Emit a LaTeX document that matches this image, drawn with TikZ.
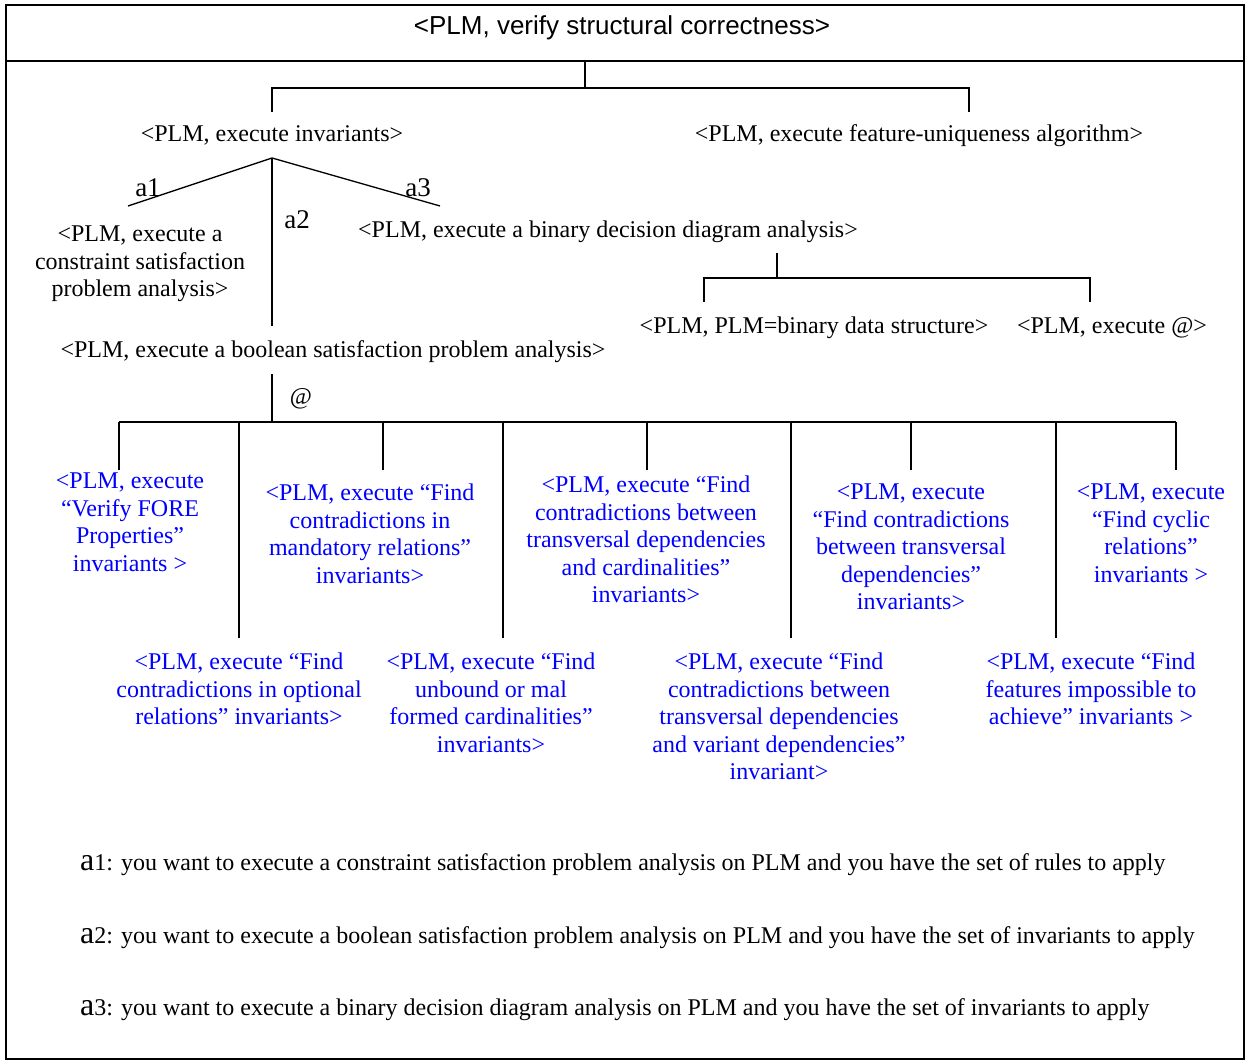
\documentclass[tikz,border=0pt]{standalone}
\usepackage{fontspec}
\setmainfont{Liberation Serif}
\newfontfamily\titlefont{Liberation Sans}
\begin{document}
\begin{tikzpicture}[x=1pt,y=-1pt,
  conn/.style={line width=1.3pt},
  frame/.style={line width=2pt},
  txt/.style={inner sep=0pt, font=\fontsize{24}{27.5}\selectfont, align=center},
  one/.style={txt, anchor=base},
  bl/.style={txt, text=blue, anchor=north},
  lab/.style={inner sep=0pt, font=\fontsize{27}{30}\selectfont},
  legend/.style={inner sep=0pt, anchor=base west, font=\fontsize{24}{28}\selectfont}
]
\useasboundingbox (0,0) rectangle (1247,1064);
\draw[frame] (6,5) rectangle (1244,1059);
\coordinate (hl) at (6,61);
\coordinate (hr) at (1244,61);
\draw[frame] (hl) -- (hr);
\node[one, font=\titlefont\fontsize{26}{30}\selectfont] (title) at (622,35) {<PLM, verify structural correctness>};

% top bracket
\coordinate (r0) at (585,61);
\coordinate (r1) at (585,88);
\coordinate (rl) at (272,88);
\coordinate (rr) at (969,88);
\coordinate (rld) at (272,112);
\coordinate (rrd) at (969,112);
\draw[conn] (r0) -- (r1);
\draw[conn] (rld) -- (rl) -- (rr) -- (rrd);

\node[one] (inv) at (272,142) {<PLM, execute invariants>};
\node[one] (fua) at (919,142) {<PLM, execute feature-uniqueness algorithm>};

% invariants branches
\coordinate (apex) at (272,158);
\coordinate (a1end) at (128,206);
\coordinate (a3end) at (440,206);
\coordinate (a2end) at (272,326);
\draw[conn] (a1end) -- (apex) -- (a3end);
\draw[conn] (apex) -- (a2end);
\node[lab] (la1) at (148,188) {a1};
\node[lab] (la3) at (418,188) {a3};
\node[lab] (la2) at (297,220) {a2};

\node[txt, anchor=north] (csp) at (140,226) {<PLM, execute a\\constraint satisfaction\\problem analysis>};
\node[one] (bdd) at (608,238) {<PLM, execute a binary decision diagram analysis>};

% bdd bracket
\coordinate (b0) at (777,253);
\coordinate (b1) at (777,278);
\coordinate (bl) at (704,278);
\coordinate (br) at (1090,278);
\coordinate (bld) at (704,302);
\coordinate (brd) at (1090,302);
\draw[conn] (b0) -- (b1);
\draw[conn] (bld) -- (bl) -- (br) -- (brd);
\node[one] (bds) at (814,334) {<PLM, PLM=binary data structure>};
\node[one] (exat) at (1112,334) {<PLM, execute @>};

\node[one] (bool) at (333,358) {<PLM, execute a boolean satisfaction problem analysis>};

% @ bracket
\coordinate (c0) at (272,374);
\coordinate (c1) at (272,422);
\coordinate (cl) at (119,422);
\coordinate (cr) at (1176,422);
\draw[conn] (c0) -- (c1);
\draw[conn] (cl) -- (cr);
\node[txt] (at) at (301,399) {@};
\foreach \x/\n in {119/s1,383/s2,647/s3,911/s4,1176/s5}{
  \coordinate (\n t) at (\x,422);
  \coordinate (\n b) at (\x,470);
  \draw[conn] (\n t) -- (\n b);
}
\foreach \x/\n in {239/l1,503/l2,791/l3,1056/l4}{
  \coordinate (\n t) at (\x,422);
  \coordinate (\n b) at (\x,638);
  \draw[conn] (\n t) -- (\n b);
}

\node[bl] (n1) at (130,473) {<PLM, execute\\“Verify FORE\\Properties”\\invariants >};
\node[bl] (n2) at (370,484) {<PLM, execute “Find\\contradictions in\\mandatory relations”\\invariants>};
\node[bl] (n3) at (646,476) {<PLM, execute “Find\\contradictions between\\transversal dependencies\\and cardinalities”\\invariants>};
\node[bl] (n4) at (911,484) {<PLM, execute\\“Find contradictions\\between transversal\\dependencies”\\invariants>};
\node[bl] (n5) at (1151,484) {<PLM, execute\\“Find cyclic\\relations”\\invariants >};
\node[bl] (n6) at (239,653) {<PLM, execute “Find\\contradictions in optional\\relations” invariants>};
\node[bl] (n7) at (491,653) {<PLM, execute “Find\\unbound or mal\\formed cardinalities”\\invariants>};
\node[bl] (n8) at (779,653) {<PLM, execute “Find\\contradictions between\\transversal dependencies\\and variant dependencies”\\invariant>};
\node[bl] (n9) at (1091,653) {<PLM, execute “Find\\features impossible to\\achieve” invariants >};

\node[legend] (g1) at (80,870) {{\fontsize{32}{32}\selectfont a}1: you want to execute a constraint satisfaction problem analysis on PLM and you have the set of rules to apply};
\node[legend] (g2) at (80,943) {{\fontsize{32}{32}\selectfont a}2: you want to execute a boolean satisfaction problem analysis on PLM and you have the set of invariants to apply};
\node[legend] (g3) at (80,1015) {{\fontsize{32}{32}\selectfont a}3: you want to execute a binary decision diagram analysis on PLM and you have the set of invariants to apply};
\end{tikzpicture}
\end{document}
